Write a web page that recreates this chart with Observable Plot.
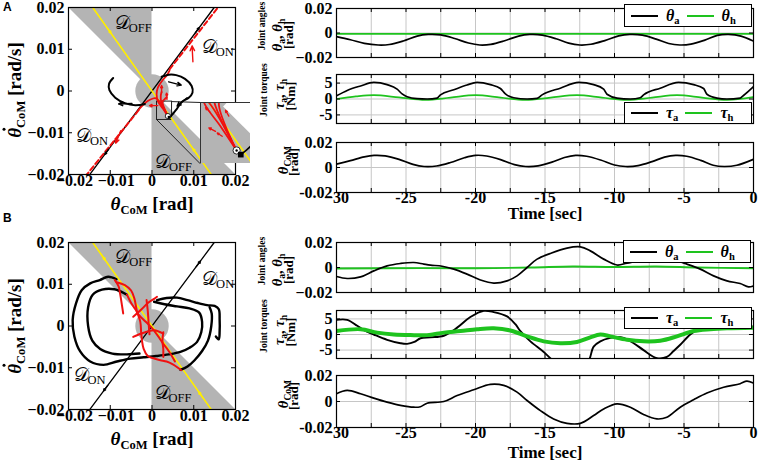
<!DOCTYPE html>
<html><head><meta charset="utf-8">
<script src="https://cdn.jsdelivr.net/npm/d3@7"></script>
<script src="https://cdn.jsdelivr.net/npm/@observablehq/plot@0.6"></script>
<style>
html,body{margin:0;padding:0;background:#fff;}
#root{position:relative;width:760px;height:462px;overflow:hidden;background:#fff;font-family:"Liberation Serif","Times New Roman",serif;font-weight:bold;color:#000;}
#root sub{font-size:0.66em;vertical-align:baseline;position:relative;top:0.3em;line-height:0;font-style:normal;}
.leg{position:absolute;border:1px solid #000;background:#fff;display:flex;align-items:center;box-sizing:border-box;font-size:16px;}
.leg .ln{display:inline-block;height:0;border-top:2px solid;}
.dotacc{position:relative;display:inline-block;}
.dotacc b{position:absolute;left:0.36em;top:-0.13em;width:0.17em;height:0.17em;border-radius:50%;background:#000;}
</style></head>
<body><div id="root"></div>
<script>
// ================= DATA =================
// phase-plane axes
const phaseTicks = [-0.02, -0.01, 0, 0.01, 0.02];
const phaseTickLabels = ["−0.02", "−0.01", "0", "0.01", "0.02"];
// switching lines (D_ON boundary: black, D_OFF boundary: yellow)
const onLineX = [-0.0149, 0.0149], onLineY = [-0.02, 0.02];
const offLineX = [-0.0142, 0.0142], offLineY = [0.02, -0.02];
// D_OFF shaded regions (between the line y = -x and the frame) and central disk
const offUpperX = [-0.02, 0], offUpperLow = [0.02, 0], offUpperHigh = [0.02, 0.02];
const offLowerX = [0, 0.02], offLowerLow = [-0.02, -0.02], offLowerHigh = [0, -0.02];
const diskRadius = 0.004;
// region labels (position of the script D, subscript text)
const dLabelsA = [
  { x: -0.0089, y: 0.0162, sub: "OFF" }, { x: 0.0119, y: 0.0105, sub: "ON" },
  { x: -0.0182, y: -0.0107, sub: "ON" }, { x: 0.0007, y: -0.0169, sub: "OFF" }];
const dLabelsB = [
  { x: -0.0088, y: 0.0166, sub: "OFF" }, { x: 0.012, y: 0.0112, sub: "ON" },
  { x: -0.0188, y: -0.0118, sub: "ON" }, { x: 0.0006, y: -0.016, sub: "OFF" }];

// ---- panel A phase plane ----
const loopA = [
  [[0.0023,0.0034],[0.004,0.0039],[0.0058,0.0038],[0.0079,0.0029],[0.0095,0.0012],[0.0097,-0.0004],[0.0088,-0.0016],[0.0072,-0.0026],[0.006,-0.0042],[0.0048,-0.0057],[0.0041,-0.0063]],
  [[-0.0017,-0.0031],[-0.004,-0.0034],[-0.0065,-0.0029],[-0.0088,-0.0016],[-0.0102,0.0002],[-0.0103,0.0017],[-0.0093,0.0031]]
];
const redA = [
  [[0.0038,-0.006],[0.0026,-0.0042],[0.00145,-0.00254],[0.0011,-0.0008],[0.0014,0.0008],[0.0024,0.0024],[0.0035,0.0037],[0.0042,0.0049]],
  [[0.0038,-0.006],[0.0018,-0.00254],[0.0008,-0.0017],[-0.0005,-0.0021],[-0.0018,-0.003],[-0.0032,-0.0045]],
  [[0.0038,-0.006],[0.0022,-0.00254],[0.0021,-0.0012],[0.0023,-0.0002]],
  [[0.0038,-0.006],[0.00253,-0.00254],[0.0031,-0.0019],[0.0035,-0.0015]]
];
const redDashA = [[[0.0042,0.0052],[0.0158,0.02]], [[-0.0032,-0.0046],[-0.0156,-0.02]]];
const arrowsBlackA = [[0.004,0.0022,0.007,0.0014],[0.0084,-0.0016,0.006,-0.0036],[-0.0048,-0.003,-0.008,-0.0031],[0.0104,0.01396,0.0113,0.01517],[-0.0104,-0.01396,-0.0113,-0.01517]];
const arrowsRedA = [[0.0023,-0.0004,0.0023,0.0013],[0.0036,-0.002,0.0035,-0.0005],[0.0014,-0.0035,-0.0006,-0.0035],[0.0098,0.007,0.0096,0.0108],[-0.0075,-0.0095,-0.0087,-0.0125]];
const arrowsYellowA = [[-0.0108,0.0152,-0.0098,0.0138],[0.0108,-0.0152,0.0098,-0.0138]];
const markerA = [0.0038, -0.006], endSquareA = [0.0041, -0.0063];
// zoomed inset (region shown by the small box)
const insetX = [0.0012, 0.0048], insetY = [-0.00694, -0.00254];
const insetCornerTL = [0.0115, -0.00275], insetCornerBL = [0.0115, -0.01737];
const arrowsRedInset = [[0.00192,-0.00327,0.00156,-0.00291],[0.00324,-0.00352,0.003,-0.0031],[0.00228,-0.00462,0.0018,-0.00437],[0.00276,-0.00498,0.0024,-0.00474]];

// ---- panel B phase plane ----
const blackB = [
  [[-0.0085,0.0112],[-0.0105,0.0118],[-0.0125,0.011],[-0.0148,0.0102],[-0.0168,0.0086],[-0.0182,0.0054],[-0.019,0.0014],[-0.0186,-0.0025],[-0.0172,-0.0061],[-0.0148,-0.0085],[-0.0116,-0.0093],[-0.0084,-0.0085],[-0.0052,-0.0078],[-0.002,-0.0075],[0.001,-0.0072],[0.004,-0.0068],[0.0068,-0.0062],[0.009,-0.0052],[0.0108,-0.0038],[0.0118,-0.0015],[0.012,0.001],[0.0113,0.0032],[0.009,0.0042],[0.006,0.0047],[0.003,0.0052],[0.0005,0.0058]],
  [[-0.006,0.0075],[-0.009,0.0088],[-0.012,0.0087],[-0.0142,0.0075],[-0.0153,0.0045],[-0.0153,0.0],[-0.0143,-0.0035],[-0.0124,-0.0055],[-0.0095,-0.0066],[-0.006,-0.0068],[-0.003,-0.0066]],
  [[0.0012,0.0062],[0.0035,0.0067],[0.006,0.0068],[0.0085,0.0062],[0.011,0.0055],[0.0132,0.005],[0.015,0.0048],[0.016,0.004],[0.0162,0.0015],[0.0162,-0.0012],[0.016,-0.0032],[0.0153,-0.0025]],
  [[0.0068,-0.0105],[0.0085,-0.0097],[0.0102,-0.0082],[0.012,-0.006],[0.0134,-0.0035],[0.0142,0.0],[0.0143,0.003],[0.0138,0.0045]]
];
const redB = [
  [[-0.0089,0.011],[-0.008,0.0095],[-0.0076,0.0075],[-0.0072,0.005],[-0.0069,0.003]],
  [[-0.0085,0.0105],[-0.0065,0.0098],[-0.005,0.0085],[-0.0042,0.0065],[-0.0036,0.0035],[-0.0028,0.001],[-0.0026,-0.0015],[-0.0024,-0.0035],[-0.002,-0.0055],[-0.001,-0.0072],[0.0005,-0.0078],[0.002,-0.0082],[0.0035,-0.0085],[0.005,-0.0092],[0.0062,-0.01],[0.007,-0.0106]],
  [[-0.0045,0.0022],[-0.0025,0.004],[-0.001,0.0055],[0.0005,0.0065],[0.0012,0.007]],
  [[-0.0013,0.0062],[-0.001,0.0035],[-0.0008,0.0005],[-0.0006,-0.002]],
  [[-0.0045,-0.0026],[-0.002,-0.0016],[0.0005,-0.001],[0.0027,-0.0018]],
  [[0.0027,-0.0015],[0.0025,-0.0035],[0.0027,-0.0055],[0.0027,-0.0074]],
  [[-0.006,0.0075],[-0.005,0.0055],[-0.004,0.004],[-0.003,0.0025],[-0.0015,0.001],[0.0,-0.0005],[0.0015,-0.0025],[0.0025,-0.004],[0.004,-0.006],[0.0055,-0.0085]]
];
const arrowsBlackB = [[0.0106,0.01423,0.0116,0.01557],[-0.0106,-0.01423,-0.0116,-0.01557]];
const arrowsYellowB = [[-0.0122,0.0172,-0.0112,0.0158],[0.0122,-0.0172,0.0112,-0.0158]];

// ---- time-series axes ----
const timeTicks = [-30, -25, -20, -15, -10, -5, 0];
const timeTickLabels = ["−30", "-25", "-20", "-15", "-10", "-5", "0"];
const timeMinor = [-30, -27.5, -25, -22.5, -20, -17.5, -15, -12.5, -10, -7.5, -5, -2.5, 0];
const angleTicks = [-0.02, 0, 0.02], angleLabels = ["−0.02", "0", "0.02"];
const torqueTicks = [-5, 0, 5], torqueLabels = ["-5", "0", "5"];
const comTicks = [-0.02, 0, 0.02], comLabels = ["-0.02", "0", "0.02"];

// ---- panel A time series ----
const tA_thA = [-30,-29,-28,-27,-26.2,-25.2,-24.2,-23.4,-22.5,-21.5,-20.5,-19.7,-18.9,-17.9,-16.9,-16.1,-15.2,-14.2,-13.3,-12.5,-11.7,-10.7,-9.7,-8.9,-8,-7,-6.1,-5.3,-4.5,-3.5,-2.6,-1.8,-0.9,0];
const A_thA = [-0.003,-0.0055,-0.0085,-0.0098,-0.0094,-0.0065,-0.0025,-0.0012,-0.0016,-0.0045,-0.0082,-0.0098,-0.0093,-0.0063,-0.0025,-0.0012,-0.0017,-0.0047,-0.0083,-0.0098,-0.0092,-0.0062,-0.0024,-0.0012,-0.0018,-0.005,-0.0086,-0.0098,-0.0091,-0.0058,-0.002,-0.0012,-0.0025,-0.0066];
const tA_thH = [-30, -15, 0];
const A_thH = [-0.0007, -0.0007, -0.0007];
const tA_tauA = [-30,-29.23,-28.27,-27.32,-26.36,-25.64,-25.28,-24.92,-24.2,-23.48,-22.76,-22.52,-21.56,-20.61,-19.89,-18.93,-18.21,-17.85,-17.25,-16.29,-15.57,-15.21,-13.9,-12.58,-11.5,-10.78,-10.54,-9.82,-8.86,-8.15,-7.91,-6.71,-5.39,-4.31,-3.59,-3.35,-2.63,-1.91,-0.96,-0.72,0];
const A_tauA = [1.0,2.7,4.1,5.2,4.5,3.1,1.6,0.7,0.1,0,0.3,1.3,2.9,4.4,5.2,4.5,3.3,1.6,0.4,0,0.2,1.3,3.4,5.2,4.5,3.1,1.5,0.3,0,0.4,1.3,3.4,5.2,4.5,3.3,1.5,0.3,0,0.3,1.1,3.9];
const tA_tauH = [-30,-28.6,-27.3,-25.5,-23.6,-21.8,-20,-18.2,-16.4,-14.6,-12.7,-10.9,-9.1,-7.3,-5.5,-3.7,-1.9,0];
const A_tauH = [0.0,0.8,1.2,0.5,-0.3,0.45,1.2,0.45,-0.3,0.45,1.2,0.45,-0.3,0.45,1.2,0.45,-0.3,0.6];
const tA_com = [-30,-29,-28,-27.3,-26.5,-25.5,-24.5,-23.7,-22.8,-21.8,-20.8,-20,-19.2,-18.2,-17.2,-16.4,-15.5,-14.5,-13.6,-12.8,-12,-11,-10,-9.2,-8.3,-7.3,-6.4,-5.6,-4.8,-3.8,-2.9,-2.1,-1.2,0];
const A_com = [0.0027,0.0055,0.0085,0.0097,0.0093,0.0065,0.0025,0.0008,0.0012,0.004,0.0078,0.0097,0.0092,0.0063,0.0023,0.0008,0.0013,0.0043,0.008,0.0097,0.009,0.006,0.002,0.0008,0.0015,0.0047,0.0083,0.0097,0.009,0.0057,0.0018,0.0008,0.0018,0.0066];

// ---- panel B time series ----
const tB_thA = [-30,-29.23,-28.27,-27.32,-26.36,-25.4,-24.44,-23.72,-23.24,-22.4,-21.56,-20.61,-19.65,-18.69,-17.73,-17.01,-16.29,-15.57,-14.62,-13.42,-12.46,-11.74,-10.78,-9.82,-9.1,-7.9,-6.7,-5.51,-4.79,-3.83,-2.87,-1.91,-0.96,-0.36,0];
const B_thA = [-0.0072,-0.0088,-0.0075,-0.0027,0.0013,0.0032,0.004,0.0027,0.0019,0.001,-0.0013,-0.0053,-0.01,-0.0125,-0.0107,-0.0067,0,0.0067,0.0112,0.0155,0.0165,0.0133,0.0067,0.002,0.0035,0.006,0.0065,0.0053,0.0027,-0.0013,-0.0067,-0.0107,-0.0128,-0.0155,-0.0147];
const tB_thH = [-30,-24,-20,-16,-13,-10,-7,-4,0];
const B_thH = [-0.0008,-0.0005,-0.0006,0.0,0.0008,0.0004,0.0008,0.0,-0.0006];
const tB_tauA = [-30,-29.23,-28.51,-28.03,-27.32,-26.36,-25.4,-24.92,-24.4,-23.96,-23.24,-22.28,-21.32,-20.37,-19.41,-18.69,-17.73,-17.13,-16.77,-16.05,-15.09,-14.38,-13.4,-12.4,-11.86,-11.5,-11.02,-10.3,-9.82,-9.34,-8.62,-7.91,-6.95,-6.23,-5.75,-5.27,-4.55,-3.83,-3.11,-2,-1,0];
const B_tauA = [4.7,4.7,2.8,1.4,0,-1.7,-2.8,-3.0,-2.4,-1.2,-0.9,-0.4,2.2,5.6,7.6,7.2,5.8,3.3,1.1,-2.2,-5.6,-8.5,-11,-11,-8.5,-3.9,-2.2,-1.1,-0.8,-1.1,-2.8,-5.0,-7.6,-7.2,-5.3,-3.3,0,2.2,3.3,3.5,3.0,2.5];
const tB_tauH = [-30,-28.27,-27.08,-25.88,-24.68,-23.48,-22.28,-21.09,-19.89,-18.69,-17.49,-16.29,-15.09,-13.9,-12.7,-11.74,-11.02,-10.3,-9.1,-7.91,-6.71,-5.51,-4.31,-3.11,-1.91,0];
const B_tauH = [1.1,1.7,0.6,0,-0.2,-0.2,0.6,1.1,1.7,2.0,1.3,-0.6,-2.2,-2.8,-2.4,-0.9,0,-0.6,-1.7,-2.2,-2.0,-0.6,1.1,1.7,2.0,2.2];
const tB_com = [-30,-29.23,-28.27,-27.32,-26.36,-25.4,-24.44,-23.96,-23.48,-22.28,-21.32,-20.13,-18.93,-17.97,-17.01,-16.29,-15.33,-14.38,-13.42,-12.46,-11.5,-10.78,-9.82,-8.86,-7.91,-6.95,-6.23,-5.27,-4.31,-3.35,-2.15,-0.96,-0.48,0];
const B_com = [0.006,0.0085,0.006,0.0026,-0.0005,-0.003,-0.0044,-0.004,-0.0013,0,0.0046,0.009,0.0132,0.0124,0.0072,0.0008,-0.007,-0.0134,-0.0168,-0.0168,-0.0108,-0.0057,-0.0018,-0.0044,-0.01,-0.0134,-0.0121,-0.0044,0.0013,0.0065,0.011,0.0137,0.0157,0.0142];

// ================= DRAWING =================
const BLACK = "#000", GREEN = "#1ec31e", RED = "#f01010", YELLOW = "#ffee00", GRAY = "#b4b4b4", GRID = "#c6c6c6";
const root = document.getElementById("root");
function put(node, left, top) { node.style.position = "absolute"; node.style.left = left + "px"; node.style.top = top + "px"; root.appendChild(node); return node; }
function html(str, left, top, css = "") { const d = document.createElement("div"); d.innerHTML = str; d.style.cssText = `position:absolute;left:${left}px;top:${top}px;white-space:nowrap;line-height:1;${css}`; root.appendChild(d); return d; }
function vlabel(str, cx, cy, size, extra = "") { return html(str, cx, cy, `font-size:${size}px;transform:translate(-50%,-50%) rotate(-90deg);${extra}`); }
function clabel(str, cx, cy, size, extra = "") { return html(str, cx, cy, `font-size:${size}px;transform:translate(-50%,-50%);${extra}`); }
const segs = (list) => list.flatMap((pts, id) => pts.map(([x, y]) => ({ x, y, id })));
const rows = (t, v) => t.map((d, i) => ({ t: d, v: v[i] }));
const arrowMark = (data, stroke, extra = {}) => Plot.arrow(data, { x1: d => d[0], y1: d => d[1], x2: d => d[2], y2: d => d[3], stroke, strokeWidth: 1.4, headLength: 7, headAngle: 50, clip: true, ...extra });
const baseStyle = { background: "transparent", overflow: "visible", fontFamily: "'Liberation Serif','Times New Roman',serif", fontWeight: "bold", fontSize: "16px", color: "#000" };

function regionMarks(rPx) {
  return [
    Plot.areaY(offUpperX, { x: d => d, y1: (d, i) => offUpperLow[i], y2: (d, i) => offUpperHigh[i], fill: GRAY, clip: true }),
    Plot.areaY(offLowerX, { x: d => d, y1: (d, i) => offLowerLow[i], y2: (d, i) => offLowerHigh[i], fill: GRAY, clip: true }),
    Plot.dot([[0, 0]], { x: d => d[0], y: d => d[1], r: rPx, fill: GRAY, clip: true })
  ];
}
function switchLines() {
  return [
    Plot.line(onLineX, { x: d => d, y: (d, i) => onLineY[i], stroke: BLACK, strokeWidth: 1.3, clip: true }),
    Plot.line(offLineX, { x: d => d, y: (d, i) => offLineY[i], stroke: YELLOW, strokeWidth: 1.6, clip: true })
  ];
}
function phaseFrameMarks(labels, F) {
  return [
    Plot.text(labels, { x: "x", y: "y", text: () => "𝒟", textAnchor: "start", fontSize: 19, fontWeight: "normal", fontFamily: "'DejaVu Serif','DejaVu Sans',serif" }),
    Plot.text(labels, { x: "x", y: "y", text: "sub", textAnchor: "start", dx: 14, dy: 5, fontSize: 12.5, fontWeight: "normal" }),
    Plot.tickX(phaseTicks, { x: d => d, insetTop: F - 4 }),
    Plot.tickX(phaseTicks, { x: d => d, insetBottom: F - 4 }),
    Plot.tickY(phaseTicks, { y: d => d, insetRight: F - 4 }),
    Plot.tickY(phaseTicks, { y: d => d, insetLeft: F - 4 }),
    Plot.frame({ stroke: BLACK, strokeWidth: 1.2 }),
    Plot.text(phaseTicks, { filter: d => d < 0, x: d => d, text: (d, i) => phaseTickLabels[i], frameAnchor: "bottom", dy: 11, dx: 6 }),
    Plot.text(phaseTicks, { filter: d => d >= 0, x: d => d, text: (d, i) => phaseTickLabels[i], frameAnchor: "bottom", dy: 11 }),
    Plot.text(phaseTicks, { y: d => d, text: (d, i) => phaseTickLabels[i], frameAnchor: "left", textAnchor: "end", dx: -4 })
  ];
}

const F = 167; // phase frame size (px)
const pxPerUnit = F / 0.04;

// ---------- Panel A phase plane ----------
{
  const marks = [
    ...regionMarks(diskRadius * pxPerUnit),
    Plot.rect([insetX], { x1: () => insetX[0], x2: () => insetX[1], y1: () => insetY[0], y2: () => insetY[1], fill: "none", stroke: "#222", strokeWidth: 1 }),
    Plot.line([[insetX[1], insetY[1]], insetCornerTL], { x: d => d[0], y: d => d[1], stroke: "#222", strokeWidth: 1 }),
    Plot.line([[insetX[0], insetY[0]], insetCornerBL], { x: d => d[0], y: d => d[1], stroke: "#222", strokeWidth: 1 }),
    ...switchLines(),
    Plot.line(segs(redDashA), { x: "x", y: "y", z: "id", stroke: RED, strokeWidth: 2, strokeDasharray: "5,3", clip: true }),
    Plot.line(segs(redA), { x: "x", y: "y", z: "id", stroke: RED, strokeWidth: 1.8, curve: "catmull-rom", clip: true }),
    Plot.line(segs(loopA), { x: "x", y: "y", z: "id", stroke: BLACK, strokeWidth: 2, curve: "catmull-rom", clip: true }),
    arrowMark(arrowsBlackA, BLACK),
    arrowMark(arrowsRedA, RED),
    arrowMark(arrowsYellowA, YELLOW, { strokeWidth: 1.4 }),
    Plot.dot([markerA], { x: d => d[0], y: d => d[1], r: 2.6, fill: "#fff", stroke: BLACK, strokeWidth: 0.8 }),
    Plot.dot([endSquareA], { x: d => d[0], y: d => d[1], symbol: "square", r: 1.6, fill: BLACK }),
    ...phaseFrameMarks(dLabelsA, F)
  ];
  const p = Plot.plot({ width: 255, height: 195, marginLeft: 68, marginRight: 20, marginTop: 7, marginBottom: 21,
    x: { domain: [-0.02, 0.02], axis: null }, y: { domain: [-0.02, 0.02], axis: null }, style: baseStyle, marks });
  put(p, 0, 0);

  // zoomed inset: gray D_OFF background, white where y > -x outside the disk
  const iw = 50, ih = 61, ipx = iw / (insetX[1] - insetX[0]);
  const inset = Plot.plot({ width: iw, height: ih, marginLeft: 0, marginRight: 0, marginTop: 0, marginBottom: 0,
    x: { domain: insetX, axis: null }, y: { domain: insetY, axis: null },
    style: { background: GRAY, overflow: "hidden" },
    marks: [
      Plot.areaY(insetX, { x: d => d, y1: d => -d, y2: () => insetY[1] + 0.01, fill: "#fff", clip: true }),
      Plot.dot([[0, 0]], { x: d => d[0], y: d => d[1], r: diskRadius * ipx, fill: GRAY, clip: true }),
      ...switchLines(),
      Plot.line(segs(redA), { x: "x", y: "y", z: "id", stroke: RED, strokeWidth: 1.8, curve: "catmull-rom", clip: true }),
      Plot.line(segs(loopA), { x: "x", y: "y", z: "id", stroke: BLACK, strokeWidth: 1.6, curve: "catmull-rom", clip: true }),
      arrowMark(arrowsRedInset, RED, { strokeWidth: 1.3, headLength: 5 }),
      Plot.dot([markerA], { x: d => d[0], y: d => d[1], r: 3.6, fill: "#fff", stroke: BLACK, strokeWidth: 0.8 }),
      Plot.dot([markerA], { x: d => d[0], y: d => d[1], r: 1.2, fill: BLACK }),
      Plot.dot([endSquareA], { x: d => d[0], y: d => d[1], symbol: "square", r: 3.2, fill: BLACK }),
      Plot.frame({ stroke: "#333", strokeWidth: 1 })
    ] });
  put(inset, 200, 102);
}

// ---------- Panel B phase plane ----------
{
  const marks = [
    ...regionMarks(diskRadius * pxPerUnit),
    ...switchLines(),
    Plot.line(segs(blackB), { x: "x", y: "y", z: "id", stroke: BLACK, strokeWidth: 2.4, curve: "catmull-rom", clip: true }),
    Plot.line(segs(redB), { x: "x", y: "y", z: "id", stroke: RED, strokeWidth: 2, curve: "catmull-rom", clip: true }),
    arrowMark(arrowsBlackB, BLACK),
    arrowMark(arrowsYellowB, YELLOW),
    ...phaseFrameMarks(dLabelsB, F)
  ];
  const p = Plot.plot({ width: 255, height: 195, marginLeft: 68, marginRight: 20, marginTop: 7, marginBottom: 21,
    x: { domain: [-0.02, 0.02], axis: null }, y: { domain: [-0.02, 0.02], axis: null }, style: baseStyle, marks });
  put(p, 0, 235);
}

// ---------- time-series panels ----------
function tsPlot(frameTop, frameH, yDomain, yTicks, yLabels, series, xAxis) {
  const mt = 8, mb = xAxis ? 22 : 4, fw = 417;
  const marks = [
    Plot.ruleX(timeMinor, { x: d => d, stroke: GRID, strokeWidth: 1 }),
    Plot.ruleY(yTicks, { y: d => d, stroke: GRID, strokeWidth: 1 }),
    ...series.map(s => Plot.line(s.data, { x: "t", y: "v", stroke: s.color, strokeWidth: s.w || 1.7, curve: s.curve || "catmull-rom", clip: true })),
    Plot.tickX(timeMinor, { x: d => d, insetTop: frameH - 4 }),
    Plot.tickX(timeMinor, { x: d => d, insetBottom: frameH - 4 }),
    Plot.tickY(yTicks, { y: d => d, insetRight: fw - 4 }),
    Plot.tickY(yTicks, { y: d => d, insetLeft: fw - 4 }),
    Plot.frame({ stroke: BLACK, strokeWidth: 1.2 }),
    Plot.text(yTicks, { y: d => d, text: (d, i) => yLabels[i], frameAnchor: "left", textAnchor: "end", dx: -4 })
  ];
  if (xAxis) marks.push(Plot.text(timeTicks, { x: d => d, text: (d, i) => timeTickLabels[i], frameAnchor: "bottom", dy: 10 }));
  const p = Plot.plot({ width: 475, height: mt + frameH + mb, marginLeft: 51, marginRight: 7, marginTop: mt, marginBottom: mb,
    x: { domain: [-30, 0], axis: null }, y: { domain: yDomain, axis: null }, style: baseStyle, marks });
  put(p, 285, frameTop - mt);
}
const torqueDomain = [-7.7, 7.7];
// A
tsPlot(8, 49, [-0.02, 0.02], angleTicks, angleLabels, [
  { data: rows(tA_thH, A_thH), color: GREEN },
  { data: rows(tA_thA, A_thA), color: BLACK }], false);
tsPlot(74, 49, torqueDomain, torqueTicks, torqueLabels, [
  { data: rows(tA_tauH, A_tauH), color: GREEN },
  { data: rows(tA_tauA, A_tauA), color: BLACK, curve: "monotone-x" }], false);
tsPlot(142, 50, [-0.02, 0.02], comTicks, comLabels, [
  { data: rows(tA_com, A_com), color: BLACK }], true);
// B
tsPlot(242, 50, [-0.02, 0.02], angleTicks, angleLabels, [
  { data: rows(tB_thH, B_thH), color: GREEN, w: 1.9 },
  { data: rows(tB_thA, B_thA), color: BLACK }], false);
tsPlot(310, 48, torqueDomain, torqueTicks, torqueLabels, [
  { data: rows(tB_tauA, B_tauA), color: BLACK, w: 1.9 },
  { data: rows(tB_tauH, B_tauH), color: GREEN, w: 4 }], false);
tsPlot(375, 52, [-0.02, 0.02], comTicks, comLabels, [
  { data: rows(tB_com, B_com), color: BLACK }], true);

// ---------- legends ----------
function legend(left, top, w, h, items) {
  const d = document.createElement("div");
  d.className = "leg";
  d.style.cssText += `left:${left}px;top:${top}px;width:${w}px;height:${h}px;padding-left:6px;`;
  d.innerHTML = items.map(it => `<span class="ln" style="border-color:${it.color};width:27px;margin-right:8px"></span><span style="margin-right:7px"><i>${it.sym}</i><sub>${it.sub}</sub></span>`).join("");
  root.appendChild(d);
}
const angleLegend = [{ sym: "θ", sub: "a", color: BLACK }, { sym: "θ", sub: "h", color: GREEN }];
const torqueLegend = [{ sym: "τ", sub: "a", color: BLACK }, { sym: "τ", sub: "h", color: GREEN }];
legend(624, 4, 128, 23, angleLegend);
legend(624, 102, 128, 22, torqueLegend);
legend(623, 240, 128, 23, angleLegend);
legend(624, 307, 128, 22, torqueLegend);

// ---------- text labels ----------
html("A", 3, 1, "font-family:'Liberation Sans',Arial,sans-serif;font-size:12px;font-weight:bold;");
html("B", 3, 212, "font-family:'Liberation Sans',Arial,sans-serif;font-size:12px;font-weight:bold;");
for (const cy of [90, 326]) vlabel('<span class="dotacc"><i>θ</i><b></b></span><sub>CoM</sub> [rad/s]', 14, cy, 19);
clabel("<i>θ</i><sub>CoM</sub> [rad]", 152, 203, 19);
clabel("<i>θ</i><sub>CoM</sub> [rad]", 152, 438, 19);
clabel("Time [sec]", 545, 213, 17);
clabel("Time [sec]", 545, 452, 17);
const yl = (angC, torC, comC) => {
  vlabel("Joint angles", 263, angC - 6, 9.5);
  vlabel("<i>θ</i><sub>a</sub>, <i>θ</i><sub>h</sub>", 277, angC + 3, 14.5);
  vlabel("[rad]", 288, angC + 3, 13);
  vlabel("Joint torques", 265, torC - 8, 9.5);
  vlabel("<i>τ</i><sub>a</sub>, <i>τ</i><sub>h</sub>", 279, torC - 4, 14.5);
  vlabel("[Nm]", 290, torC - 2, 13);
  vlabel("<i>θ</i><sub>CoM</sub>", 283, comC - 7, 14.5);
  vlabel("[rad]", 293, comC - 5, 13);
};
yl(32, 98, 167);
yl(267, 334, 401);
</script></body></html>
